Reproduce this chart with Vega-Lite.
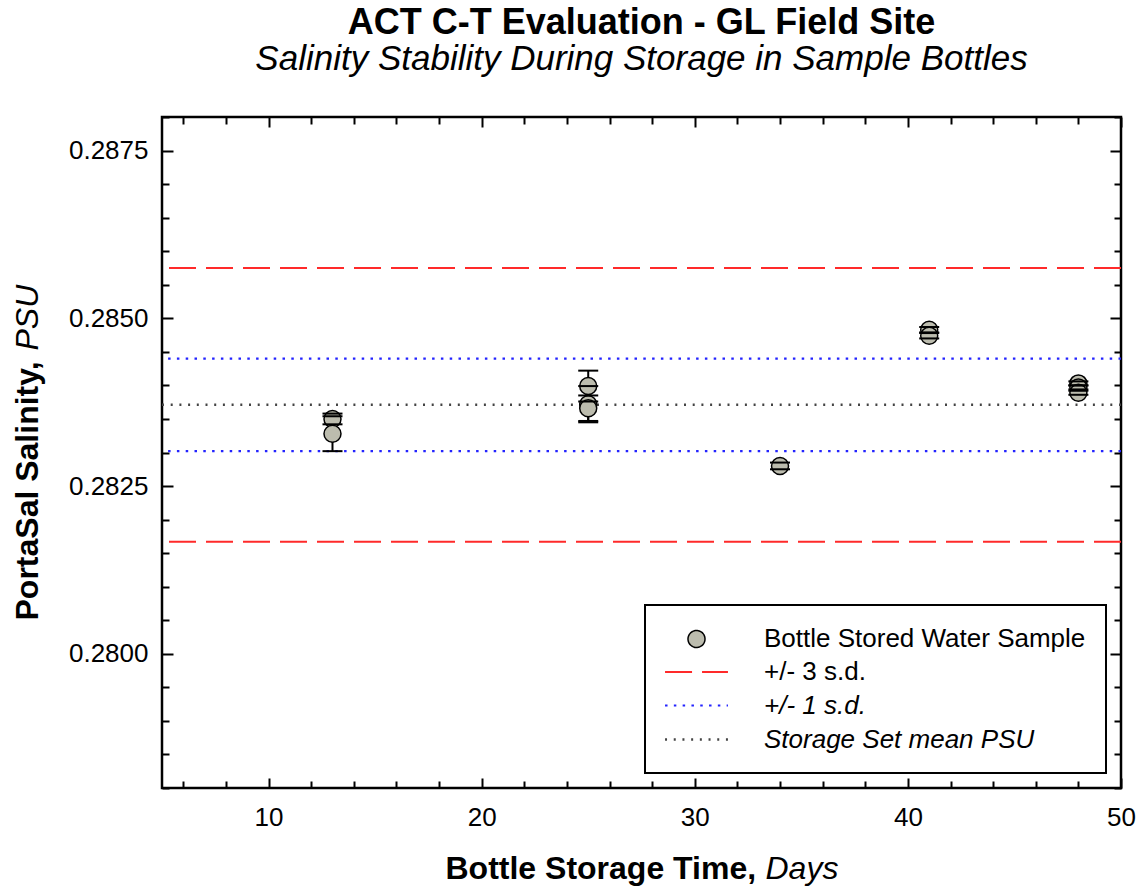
{
  "$schema": "https://vega.github.io/schema/vega-lite/v6.json",
  "width": 959,
  "height": 671,
  "autosize": {"type": "none"},
  "padding": {"left": 162, "top": 117, "right": 19, "bottom": 105},
  "background": "white",
  "title": {
    "text": "ACT C-T Evaluation - GL Field Site",
    "subtitle": "Salinity Stability During Storage in Sample Bottles",
    "font": "Liberation Sans", "fontSize": 36, "fontWeight": "bold", "color": "black",
    "subtitleFont": "Liberation Sans", "subtitleFontSize": 35, "subtitleFontStyle": "italic", "subtitleColor": "black",
    "anchor": "middle", "offset": 26, "subtitlePadding": 0
  },
  "config": {
    "view": {"stroke": "black", "strokeWidth": 2.5},
    "font": "Liberation Sans",
    "axis": {
      "domain": false, "grid": false, "tickColor": "black", "tickWidth": 2,
      "labelFont": "Liberation Sans", "labelFontSize": 26, "labelColor": "black",
      "titleFont": "Liberation Sans", "titleFontSize": 32, "titleFontWeight": "bold", "titleColor": "black",
      "labelOverlap": false, "labelFlush": false
    }
  },
  "datasets": {
    "points": [
      {"day": 13, "psu": 0.28350, "lo": 0.28342, "hi": 0.28358, "series": "Bottle Stored Water Sample"},
      {"day": 13, "psu": 0.28328, "lo": 0.28302, "hi": 0.28354, "series": "Bottle Stored Water Sample"},
      {"day": 25, "psu": 0.28399, "lo": 0.28376, "hi": 0.28422, "series": "Bottle Stored Water Sample"},
      {"day": 25, "psu": 0.28372, "lo": 0.28345, "hi": 0.28399, "series": "Bottle Stored Water Sample"},
      {"day": 25, "psu": 0.28366, "lo": 0.28347, "hi": 0.28385, "series": "Bottle Stored Water Sample"},
      {"day": 34, "psu": 0.28280, "lo": 0.28275, "hi": 0.28285, "series": "Bottle Stored Water Sample"},
      {"day": 41, "psu": 0.28483, "lo": 0.28479, "hi": 0.28487, "series": "Bottle Stored Water Sample"},
      {"day": 41, "psu": 0.28474, "lo": 0.28470, "hi": 0.28478, "series": "Bottle Stored Water Sample"},
      {"day": 48, "psu": 0.28403, "lo": 0.28400, "hi": 0.28406, "series": "Bottle Stored Water Sample"},
      {"day": 48, "psu": 0.28397, "lo": 0.28394, "hi": 0.28400, "series": "Bottle Stored Water Sample"},
      {"day": 48, "psu": 0.28389, "lo": 0.28386, "hi": 0.28392, "series": "Bottle Stored Water Sample"}
    ],
    "lines": [
      {"psu": 0.28575, "series": "+/- 3 s.d."},
      {"psu": 0.28167, "series": "+/- 3 s.d."},
      {"psu": 0.28440, "series": "+/- 1 s.d."},
      {"psu": 0.28302, "series": "+/- 1 s.d."},
      {"psu": 0.28371, "series": "Storage Set mean PSU"}
    ]
  },
  "layer": [
    {
      "data": {"name": "lines"},
      "mark": {"type": "rule"},
      "encoding": {
        "y": {
          "field": "psu", "type": "quantitative",
          "scale": {"domain": [0.278, 0.288], "nice": false, "zero": false},
          "axis": {
            "orient": "left",
            "values": [0.278, 0.2785, 0.279, 0.2795, 0.28, 0.2805, 0.281, 0.2815, 0.282, 0.2825, 0.283, 0.2835, 0.284, 0.2845, 0.285, 0.2855, 0.286, 0.2865, 0.287, 0.2875, 0.288],
            "labelExpr": "round(datum.value*10000) % 25 === 0 ? format(datum.value, '.4f') : ''",
            "tickSize": {"condition": {"test": "round(datum.value*10000) % 25 === 0", "value": -11}, "value": -7},
            "labelPadding": 25,
            "title": "PortaSal Salinity,",
            "titleAngle": 270,
            "titleAlign": "left",
            "titleBaseline": "alphabetic",
            "titleX": -125,
            "titleY": 503
          }
        },
        "color": {
          "field": "series", "type": "nominal",
          "scale": {
            "domain": ["Bottle Stored Water Sample", "+/- 3 s.d.", "+/- 1 s.d.", "Storage Set mean PSU"],
            "range": ["#000000", "#ff2a2a", "#2323ff", "#444444"]
          },
          "legend": {
            "title": null,
            "orient": "bottom-right",
            "offset": 15,
            "padding": 20,
            "rowPadding": 6,
            "symbolOffset": 17,
            "labelOffset": 53,
            "labelFont": "Liberation Sans",
            "labelFontSize": 26,
            "labelColor": "black",
            "labelLimit": 500,
            "symbolSize": 676,
            "symbolStrokeWidth": 2.5,
            "symbolType": "stroke",
            "strokeColor": "black",
            "fillColor": "white",
            "encode": {
              "legend": {"update": {"strokeWidth": {"value": 2}}},
              "symbols": {"update": {
                "shape": {"signal": "datum.value === 'Bottle Stored Water Sample' ? 'M-0.654,0A0.654,0.654,0,1,0,0.654,0A0.654,0.654,0,1,0,-0.654,0Z' : 'M-2.42,0H2.42'"},
                "fill": {"signal": "datum.value === 'Bottle Stored Water Sample' ? '#bcbcae' : 'transparent'"},
                "stroke": {"signal": "datum.value === 'Bottle Stored Water Sample' ? '#000000' : datum.value === '+/- 3 s.d.' ? '#ff2a2a' : datum.value === '+/- 1 s.d.' ? '#2323ff' : '#444444'"},
                "strokeDash": {"signal": "datum.value === '+/- 3 s.d.' ? [27, 10] : datum.value === '+/- 1 s.d.' ? [2.5, 6.3] : datum.value === 'Storage Set mean PSU' ? [2, 6.7] : [1, 0]"},
                "opacity": {"value": 1}
              }},
              "labels": {"update": {
                "fontStyle": {"signal": "datum.value === '+/- 1 s.d.' || datum.value === 'Storage Set mean PSU' ? 'italic' : 'normal'"}
              }}
            }
          }
        },
        "strokeDash": {
          "field": "series", "type": "nominal",
          "scale": {
            "domain": ["Bottle Stored Water Sample", "+/- 3 s.d.", "+/- 1 s.d.", "Storage Set mean PSU"],
            "range": [[1, 0], [27, 10], [2.5, 6.3], [2, 6.7]]
          },
          "legend": null
        },
        "strokeWidth": {
          "field": "series", "type": "nominal",
          "scale": {
            "domain": ["Bottle Stored Water Sample", "+/- 3 s.d.", "+/- 1 s.d.", "Storage Set mean PSU"],
            "range": [1.5, 2.5, 2.5, 2]
          },
          "legend": null
        }
      }
    },
    {
      "data": {"name": "points"},
      "mark": {"type": "rule", "color": "black", "strokeWidth": 2},
      "encoding": {
        "x": {
          "field": "day", "type": "quantitative",
          "scale": {"domain": [5, 50], "nice": false, "zero": false},
          "axis": {
            "orient": "bottom",
            "values": [6, 8, 10, 12, 14, 16, 18, 20, 22, 24, 26, 28, 30, 32, 34, 36, 38, 40, 42, 44, 46, 48, 50],
            "labelExpr": "datum.value % 10 === 0 ? datum.label : ''",
            "tickSize": {"condition": {"test": "datum.value % 10 === 0", "value": -10}, "value": -7},
            "labelPadding": 26,
            "title": "Bottle Storage Time,",
            "titleAlign": "left",
            "titleBaseline": "alphabetic",
            "titleX": 283,
            "titleY": 90
          }
        },
        "y": {
          "field": "lo", "type": "quantitative",
          "scale": {"domain": [0.278, 0.288], "nice": false, "zero": false},
          "axis": {
            "orient": "right",
            "values": [0.278, 0.2785, 0.279, 0.2795, 0.28, 0.2805, 0.281, 0.2815, 0.282, 0.2825, 0.283, 0.2835, 0.284, 0.2845, 0.285, 0.2855, 0.286, 0.2865, 0.287, 0.2875, 0.288],
            "labels": false,
            "tickSize": {"condition": {"test": "round(datum.value*10000) % 25 === 0", "value": -11}, "value": -7},
            "title": null
          }
        },
        "y2": {"field": "hi"}
      }
    },
    {
      "data": {"name": "points"},
      "mark": {"type": "circle", "size": 289, "fill": "#bcbcae", "stroke": "black", "strokeWidth": 1.5, "opacity": 1},
      "encoding": {
        "x": {"field": "day", "type": "quantitative", "axis": null},
        "y": {"field": "psu", "type": "quantitative", "axis": null}
      }
    },
    {
      "data": {"name": "points"},
      "mark": {"type": "tick", "orient": "horizontal", "size": 20, "thickness": 2, "color": "black", "opacity": 1},
      "encoding": {
        "x": {
          "field": "day", "type": "quantitative",
          "axis": {
            "orient": "top",
            "values": [6, 8, 10, 12, 14, 16, 18, 20, 22, 24, 26, 28, 30, 32, 34, 36, 38, 40, 42, 44, 46, 48, 50],
            "labels": false,
            "tickSize": {"condition": {"test": "datum.value % 10 === 0", "value": -10}, "value": -7},
            "title": null
          }
        },
        "y": {
          "field": "lo", "type": "quantitative",
          "axis": {
            "orient": "left",
            "labels": false,
            "ticks": false,
            "domain": false,
            "title": "PSU",
            "titleFontStyle": "italic",
            "titleFontWeight": "normal",
            "titleAngle": 270,
            "titleAlign": "left",
            "titleBaseline": "alphabetic",
            "titleX": -125,
            "titleY": 233
          }
        }
      }
    },
    {
      "data": {"name": "points"},
      "mark": {"type": "tick", "orient": "horizontal", "size": 20, "thickness": 2, "color": "black", "opacity": 1},
      "encoding": {
        "x": {
          "field": "day", "type": "quantitative",
          "axis": {
            "orient": "bottom",
            "labels": false,
            "ticks": false,
            "domain": false,
            "title": "Days",
            "titleFontStyle": "italic",
            "titleFontWeight": "normal",
            "titleAlign": "left",
            "titleBaseline": "alphabetic",
            "titleX": 603,
            "titleY": 90
          }
        },
        "y": {"field": "hi", "type": "quantitative", "axis": null}
      }
    }
  ],
  "resolve": {"axis": {"x": "independent", "y": "independent"}}
}
